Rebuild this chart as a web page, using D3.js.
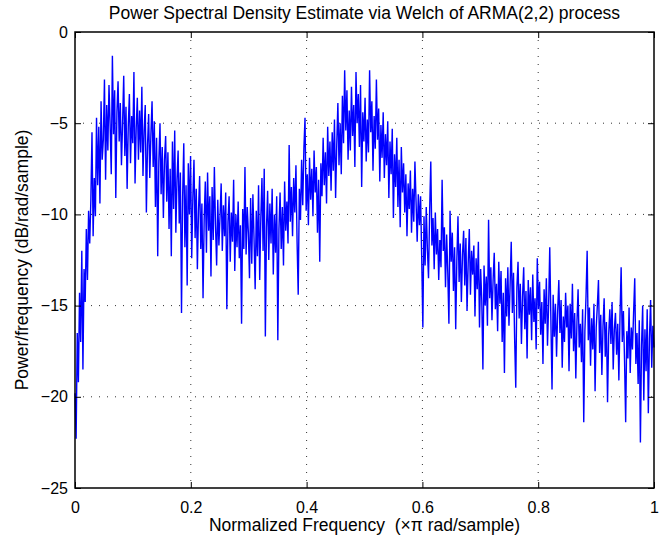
<!DOCTYPE html>
<html>
<head>
<meta charset="utf-8">
<script src="https://cdn.jsdelivr.net/npm/d3@7"></script>
<style>
  body { margin: 0; background: #fff; }
  text { font-family: "Liberation Sans", Arial, Helvetica, sans-serif; fill: #000; }
</style>
</head>
<body>
<div id="chart"></div>
<script>
// PSD values in dB/rad/sample, 512 bins from 0 to 1 (x pi rad/sample)
var psdLow = [-19.8, -22.3, -16.5, -19.2, -14.3, -17.0, -12.0, -18.5, -13.0, -14.8, -10.8, -13.6, -9.8, -11.6, -9.2, -5.5,
  -11.2, -8.0, -10.1, -4.7, -8.4, -5.2, -9.4, -3.8, -7.0, -5.9, -2.6, -8.1, -4.0, -6.5, -2.9, -5.1,
  -7.8, -1.3, -5.6, -3.2, -9.1, -4.4, -2.7, -6.0, -3.9, -7.3, -5.0, -2.4, -6.8, -4.1, -8.6, -5.2,
  -3.4, -7.2, -4.6, -6.1, -2.2, -8.3, -5.3, -3.6, -7.0, -4.3, -6.6, -3.0, -7.9, -5.4, -4.0, -9.9];

var psdFall = [-6.2, -4.5, -8.0, -5.6, -3.8, -7.4, -4.9, -9.6, -5.8, -12.3, -7.1, -5.0, -8.9, -6.3, -10.2, -7.0,
  -5.7, -9.3, -6.6, -10.8, -7.5, -12.3, -6.0, -9.7, -5.4, -11.0, -8.1, -6.5, -10.5, -7.7, -15.4, -9.0,
  -6.1, -11.8, -8.4, -13.9, -7.2, -10.0, -6.8, -12.4, -9.1, -7.0, -11.3, -8.6, -13.0, -9.8, -7.9, -11.9,
  -9.4, -14.6, -10.3, -8.2, -12.1, -7.7, -10.9, -9.0, -13.4, -8.5, -11.4, -7.4, -10.6, -12.8, -9.2, -11.7];

var psdValley = [-10.1, -8.3, -12.0, -9.5, -11.2, -8.8, -15.2, -10.4, -9.0, -12.6, -9.9, -11.5, -8.1, -13.1, -10.0, -11.8,
  -9.3, -12.4, -10.6, -16.0, -9.7, -11.9, -7.4, -12.2, -9.6, -11.0, -13.5, -9.1, -12.7, -8.9, -11.3, -14.1,
  -9.8, -12.3, -8.4, -13.6, -10.2, -8.0, -12.0, -7.5, -16.7, -10.7, -8.7, -12.5, -9.4, -11.6, -8.6, -13.3,
  -10.0, -12.1, -9.0, -16.9, -10.8, -8.8, -11.9, -9.6, -12.8, -8.2, -10.9, -9.3, -11.6, -6.2, -10.4, -8.5];

var psdRise = [-11.2, -8.0, -9.9, -7.3, -11.5, -14.4, -8.6, -10.3, -7.0, -9.5, -6.4, -4.7, -9.8, -7.8, -10.6, -6.9,
  -9.2, -7.5, -10.1, -6.5, -8.8, -7.4, -11.0, -8.1, -12.6, -7.2, -9.0, -5.8, -8.4, -6.6, -9.4, -5.2,
  -7.9, -6.0, -8.7, -5.5, -7.6, -4.8, -9.1, -6.2, -3.9, -7.3, -5.0, -7.8, -3.5, -6.1, -2.1, -5.4,
  -3.2, -7.0, -4.3, -6.5, -3.0, -5.7, -4.0, -7.4, -2.2, -5.0, -3.4, -6.3, -2.9, -8.5, -4.4, -6.0];

var psdPeak = [-3.6, -7.1, -4.8, -6.6, -2.1, -5.5, -3.8, -7.6, -4.6, -6.4, -2.6, -5.9, -4.2, -8.2, -5.1, -6.9,
  -4.4, -8.0, -5.6, -7.3, -4.9, -9.1, -6.0, -7.8, -5.3, -10.2, -6.7, -8.5, -5.8, -9.6, -7.0, -10.7,
  -6.3, -8.8, -7.2, -9.9, -7.8, -11.2, -8.3, -9.7, -7.6, -11.0, -8.6, -10.4, -7.1, -9.3, -11.5, -8.9,
  -10.6, -9.0, -12.4, -16.2, -10.1, -12.8, -9.6, -11.9, -13.5, -9.8, -7.1, -11.7, -10.2, -13.0, -9.9, -12.2];

var psdDecay = [-10.8, -13.6, -11.4, -12.9, -8.1, -12.0, -10.7, -14.0, -11.1, -13.2, -16.0, -9.8, -12.6, -11.0, -14.2, -11.8,
  -16.3, -12.5, -10.1, -13.7, -11.6, -14.8, -12.2, -10.9, -13.9, -11.3, -15.3, -12.7, -10.8, -14.4, -12.0, -13.3,
  -11.7, -15.6, -12.4, -14.1, -11.5, -16.2, -13.0, -14.7, -18.5, -12.8, -15.0, -13.4, -16.1, -10.3, -14.6, -12.9,
  -15.8, -13.6, -12.1, -15.2, -13.8, -16.4, -12.6, -14.9, -13.1, -17.0, -14.3, -18.7, -13.5, -15.6, -12.9, -16.1];

var psdTail = [-13.9, -11.5, -15.4, -13.2, -16.8, -19.5, -14.0, -12.6, -15.7, -13.8, -17.1, -14.5, -12.9, -16.3, -14.2, -17.9,
  -13.6, -15.5, -14.0, -16.9, -13.3, -15.9, -14.6, -17.4, -12.4, -15.2, -13.7, -16.6, -14.8, -18.2, -14.1, -16.0,
  -13.5, -17.2, -15.0, -11.8, -15.8, -19.6, -14.4, -16.7, -14.9, -17.8, -15.3, -13.6, -16.5, -14.7, -18.4, -15.6,
  -17.0, -14.3, -16.2, -15.0, -18.6, -14.9, -16.8, -13.8, -17.5, -15.4, -19.0, -15.9, -14.1, -17.3, -16.0, -18.1];

var psdEnd = [-15.2, -21.4, -16.4, -14.5, -12.0, -16.9, -15.1, -18.3, -15.7, -17.4, -14.9, -19.7, -16.2, -15.0, -13.6, -17.6,
  -15.5, -18.8, -16.1, -14.6, -17.8, -15.9, -20.3, -16.6, -15.2, -17.1, -14.8, -18.5, -16.3, -15.4, -17.7, -16.0,
  -19.1, -15.6, -12.9, -17.0, -15.3, -18.0, -21.4, -16.4, -17.9, -15.1, -18.7, -16.2, -17.4, -15.4, -13.5, -18.2,
  -16.5, -19.3, -15.8, -22.5, -17.2, -15.0, -20.2, -16.3, -18.6, -15.2, -20.9, -16.8, -14.7, -18.4, -16.1, -17.3];

var xTicks = [0, 0.2, 0.4, 0.6, 0.8, 1];
var yTicks = [-25, -20, -15, -10, -5, 0];

var titleText = "Power Spectral Density Estimate via Welch of ARMA(2,2) process";
var xLabelText = "Normalized Frequency  (\u00d7\u03c0 rad/sample)";
var yLabelText = "Power/frequency (dB/rad/sample)";

var psd = [].concat(psdLow, psdFall, psdValley, psdRise, psdPeak, psdDecay, psdTail, psdEnd);
var data = psd.map(function(v, i) {
  return { freq: i / (psd.length - 1), power: v };
});

var svgWidth = 671;
var svgHeight = 537;

var margin = {
  top: 32,
  right: 17,
  bottom: 49,
  left: 75
};

var width = svgWidth - margin.left - margin.right;
var height = svgHeight - margin.top - margin.bottom;

var svg = d3.select("#chart")
  .append("svg")
  .attr("width", svgWidth)
  .attr("height", svgHeight);

var chartGroup = svg.append("g")
  .attr("transform", `translate(${margin.left}, ${margin.top})`);

var xScale = d3.scaleLinear()
  .domain([0, 1])
  .range([0, width]);

var yScale = d3.scaleLinear()
  .domain([-25, 0])
  .range([height, 0]);

// dotted grid
chartGroup.append("g")
  .selectAll("line")
  .data(xTicks.slice(1, -1))
  .enter()
  .append("line")
  .attr("x1", d => xScale(d))
  .attr("x2", d => xScale(d))
  .attr("y1", 0)
  .attr("y2", height)
  .attr("stroke", "#333")
  .attr("stroke-width", 1)
  .attr("stroke-dasharray", "1,7");

chartGroup.append("g")
  .selectAll("line")
  .data(yTicks.slice(1, -1))
  .enter()
  .append("line")
  .attr("x1", 0)
  .attr("x2", width)
  .attr("y1", d => yScale(d))
  .attr("y2", d => yScale(d))
  .attr("stroke", "#333")
  .attr("stroke-width", 1)
  .attr("stroke-dasharray", "1,7");

// psd trace
var line = d3.line()
  .x(d => xScale(d.freq))
  .y(d => yScale(d.power));

chartGroup.append("path")
  .datum(data)
  .attr("fill", "none")
  .attr("stroke", "#0000ff")
  .attr("stroke-width", 1.4)
  .attr("stroke-linejoin", "miter")
  .attr("d", line);

// axes, ticks pointing inward on all four sides
var bottomAxis = d3.axisBottom(xScale)
  .tickValues(xTicks)
  .tickFormat(d3.format("~g"))
  .tickSizeInner(-6)
  .tickSizeOuter(0)
  .tickPadding(14);

var leftAxis = d3.axisLeft(yScale)
  .tickValues(yTicks)
  .tickFormat(d => d < 0 ? "\u2212" + Math.abs(d) : d)
  .tickSizeInner(-6)
  .tickSizeOuter(0)
  .tickPadding(7);

var topAxis = d3.axisTop(xScale)
  .tickValues(xTicks)
  .tickFormat("")
  .tickSizeInner(-6)
  .tickSizeOuter(0);

var rightAxis = d3.axisRight(yScale)
  .tickValues(yTicks)
  .tickFormat("")
  .tickSizeInner(-6)
  .tickSizeOuter(0);

chartGroup.append("g")
  .attr("class", "axis")
  .attr("transform", `translate(0, ${height})`)
  .call(bottomAxis);

chartGroup.append("g")
  .attr("class", "axis")
  .call(leftAxis);

chartGroup.append("g")
  .attr("class", "axis")
  .call(topAxis);

chartGroup.append("g")
  .attr("class", "axis")
  .attr("transform", `translate(${width}, 0)`)
  .call(rightAxis);

svg.selectAll(".axis path").remove();
svg.selectAll(".axis line").attr("stroke", "#000");
svg.selectAll(".axis text")
  .style("font-family", "'Liberation Sans', Arial, sans-serif")
  .style("font-size", "16px")
  .attr("fill", "#000");

// box
chartGroup.append("rect")
  .attr("x", 0)
  .attr("y", 0)
  .attr("width", width)
  .attr("height", height)
  .attr("fill", "none")
  .attr("stroke", "#000")
  .attr("stroke-width", 1.5);

// labels
svg.append("text")
  .attr("x", margin.left + width / 2)
  .attr("y", 19)
  .attr("text-anchor", "middle")
  .style("font-size", "17.5px")
  .text(titleText);

svg.append("text")
  .attr("x", margin.left + width / 2)
  .attr("y", 531)
  .attr("text-anchor", "middle")
  .attr("xml:space", "preserve")
  .style("white-space", "pre")
  .style("font-size", "17.5px")
  .text(xLabelText);

svg.append("text")
  .attr("transform", `translate(28, ${margin.top + height / 2}) rotate(-90)`)
  .attr("text-anchor", "middle")
  .style("font-size", "17.5px")
  .text(yLabelText);
</script>
</body>
</html>
